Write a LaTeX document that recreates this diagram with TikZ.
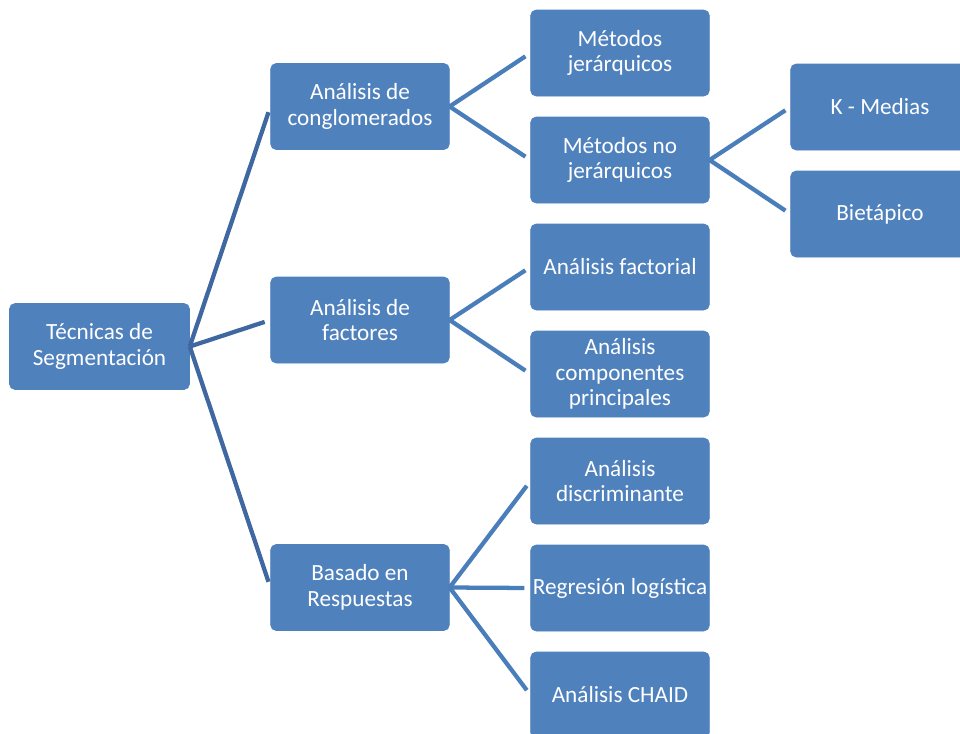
\documentclass[tikz,border=0pt]{standalone}
\usepackage{fontspec}
\setmainfont{Carlito}
\definecolor{boxblue}{HTML}{4F81BD}
\definecolor{rootline}{HTML}{3F67A0}
\definecolor{linkline}{HTML}{4A7EBB}
\begin{document}
\begin{tikzpicture}[x=0.75pt,y=-0.75pt,
  box/.style={draw=boxblue, fill=boxblue, rounded corners=4pt, text=white,
    minimum width=134pt, minimum height=64.5pt, inner sep=0pt, align=center,
    font=\fontsize{17.4}{19.1}\selectfont},
  rootbox/.style={box, minimum width=135pt},
  rootlink/.style={draw=rootline, line width=3.2pt, shorten >=4.5pt},
  link/.style={draw=linkline, line width=3.2pt, shorten >=4.5pt}]
\useasboundingbox (0,0) rectangle (960,733);
\clip (0,0) rectangle (960,733);
% nodes
\node[rootbox] (root) at (99.5,346.5) {Técnicas de\\Segmentación};
\node[box] (cong) at (360,106.5) {Análisis de\\conglomerados};
\node[box] (fact) at (360,320) {Análisis de\\factores};
\node[box] (resp) at (360,587.5) {Basado en\\Respuestas};
\node[box] (jer) at (620,53) {Métodos\\jerárquicos};
\node[box] (nojer) at (620,160) {Métodos no\\jerárquicos};
\node[box] (afact) at (620,267) {Análisis factorial};
\node[box] (acp) at (620,374) {Análisis\\componentes\\principales};
\node[box] (adis) at (620,481) {Análisis\\discriminante};
\node[box] (reg) at (620,588) {Regresión logística};
\node[box] (chaid) at (620,695) {Análisis CHAID};
\node[box] (kmed) at (880,107) {K - Medias};
\node[box] (biet) at (880,214) {Bietápico};
% connectors
\draw[rootlink] (root.east) -- (cong.west);
\draw[rootlink] (root.east) -- (fact.west);
\draw[rootlink] (root.east) -- (resp.west);
\draw[link] (cong.east) -- (jer.west);
\draw[link] (cong.east) -- (nojer.west);
\draw[link] (fact.east) -- (afact.west);
\draw[link] (fact.east) -- (acp.west);
\draw[link] (resp.east) -- (adis.west);
\draw[link] (resp.east) -- (reg.west);
\draw[link] (resp.east) -- (chaid.west);
\draw[link] (nojer.east) -- (kmed.west);
\draw[link] (nojer.east) -- (biet.west);
\end{tikzpicture}
\end{document}
